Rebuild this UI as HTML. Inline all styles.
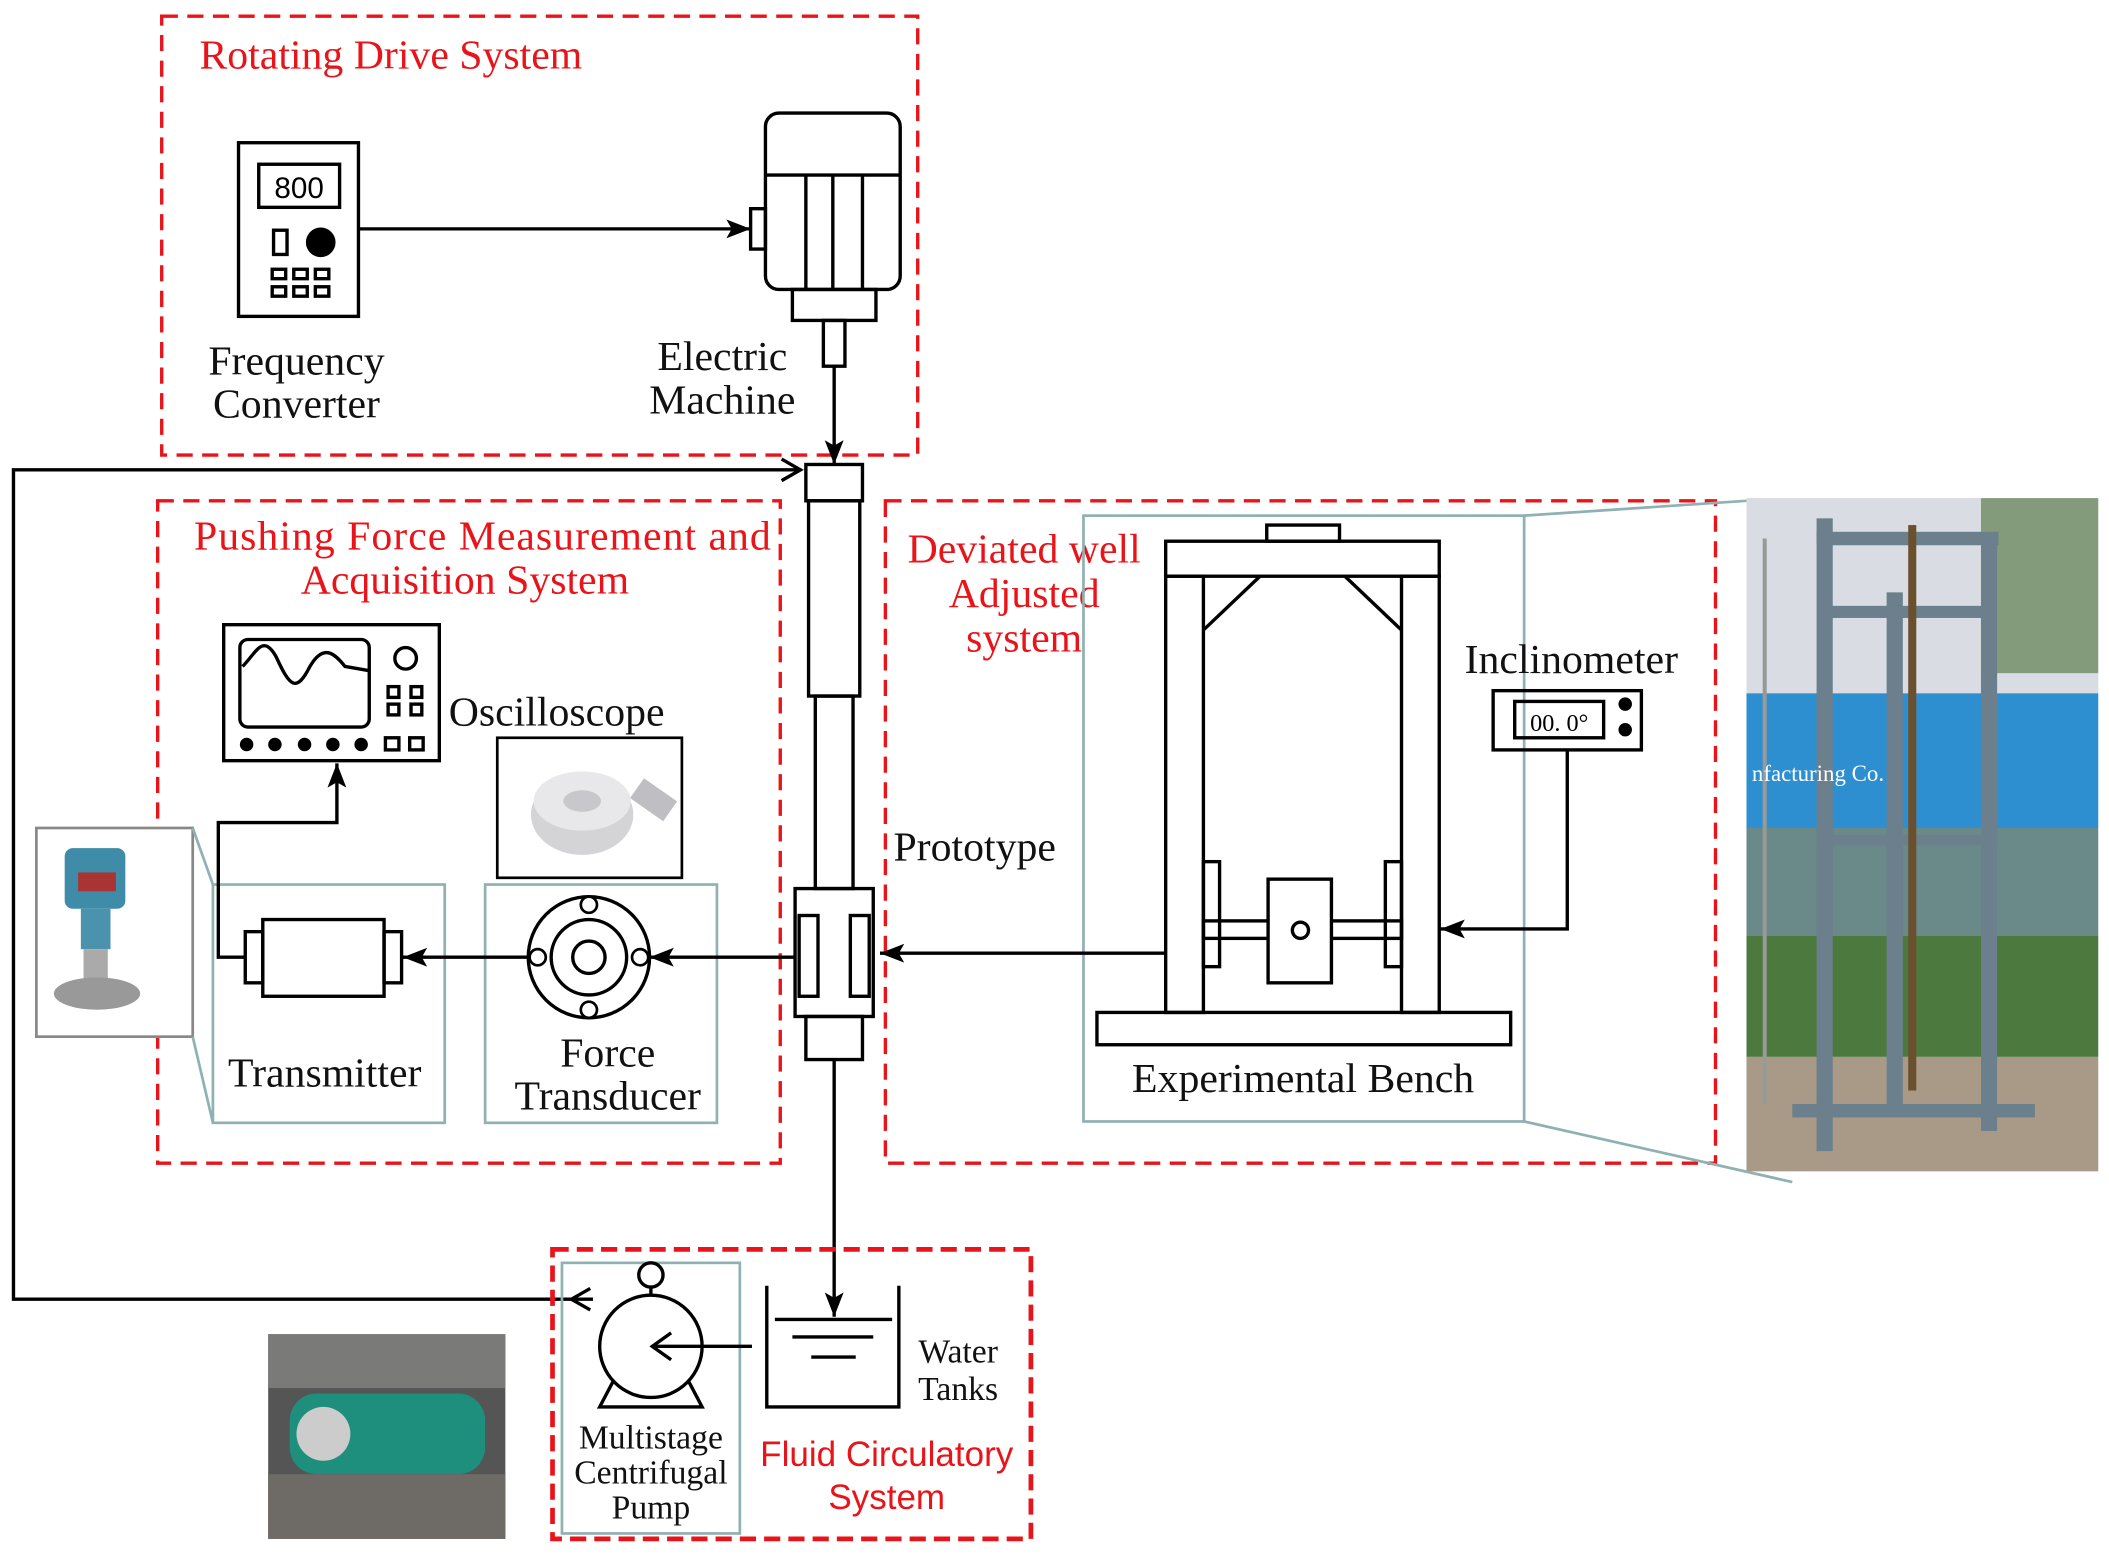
<!DOCTYPE html>
<html><head><meta charset="utf-8"><style>html,body{margin:0;padding:0;background:#fff}svg{display:block}</style></head>
<body>
<svg width="2109" height="1555" viewBox="0 0 1565 1155" preserveAspectRatio="none" xmlns="http://www.w3.org/2000/svg">
<defs>
<marker id="a" markerWidth="20" markerHeight="16" refX="18" refY="7" orient="auto" markerUnits="userSpaceOnUse"><path d="M0,0 L18,7 L0,14 L4,7 Z" fill="#000"/></marker>
</defs>
<style>
.d{fill:none;stroke:#e8141a;stroke-width:2.5;stroke-dasharray:12,7}
.k{fill:none;stroke:#000;stroke-width:2.5}
.t{fill:none;stroke:#8fb1b3;stroke-width:2}
.s{font-family:"Liberation Serif",serif;font-size:31px;fill:#111;text-anchor:middle}
.r{font-family:"Liberation Serif",serif;font-size:31px;fill:#e8141a}
</style>
<rect x="120" y="12" width="561" height="326" class="d"/>
<text x="148" y="51" class="r">Rotating Drive System</text>
<rect x="177" y="106" width="89" height="129" class="k"/>
<rect x="192" y="122" width="60" height="32" class="k" stroke-width="2"/>
<text x="222" y="147" font-family="Liberation Sans,sans-serif" font-size="22" text-anchor="middle">800</text>
<rect x="203" y="171" width="10" height="18" class="k" stroke-width="2"/>
<circle cx="238" cy="180" r="11" fill="#000"/>
<g class="k" stroke-width="1.8"><rect x="202" y="200" width="10" height="7"/><rect x="218" y="200" width="10" height="7"/><rect x="234" y="200" width="10" height="7"/><rect x="202" y="213" width="10" height="7"/><rect x="218" y="213" width="10" height="7"/><rect x="234" y="213" width="10" height="7"/></g>
<line x1="266" y1="170" x2="557" y2="170" class="k" marker-end="url(#a)"/>
<rect x="568" y="84" width="100" height="131" rx="10" class="k"/>
<line x1="568" y1="130" x2="668" y2="130" class="k"/>
<line x1="598" y1="130" x2="598" y2="215" class="k"/><line x1="618" y1="130" x2="618" y2="215" class="k"/><line x1="640" y1="130" x2="640" y2="215" class="k"/>
<rect x="557" y="155" width="11" height="30" class="k"/>
<rect x="588" y="215" width="62" height="23" class="k"/>
<rect x="611" y="238" width="16" height="34" class="k"/>
<line x1="619" y1="272" x2="619" y2="345" class="k" marker-end="url(#a)"/>
<text x="220" y="278" class="s">Frequency</text><text x="220" y="310" class="s">Converter</text>
<text x="536" y="275" class="s">Electric</text><text x="536" y="307" class="s">Machine</text>
<polyline points="440,965 10,965 10,349 594,349" class="k" stroke-width="3"/>
<path d="M580,341 L594,349 L580,357" fill="none" stroke="#000" stroke-width="2.5"/>
<path d="M438,957 L424,965 L438,973" fill="none" stroke="#000" stroke-width="2.5"/>
<rect x="598" y="345" width="42" height="27" class="k"/>
<rect x="600" y="372" width="38" height="145" class="k"/>
<rect x="605" y="517" width="28" height="143" class="k"/>
<rect x="590" y="660" width="58" height="95" class="k"/>
<rect x="593" y="680" width="14" height="60" class="k"/><rect x="631" y="680" width="14" height="60" class="k"/>
<rect x="598" y="755" width="42" height="32" class="k"/>
<line x1="619" y1="787" x2="619" y2="978" class="k" marker-end="url(#a)"/>
<text x="663" y="639" class="s" style="text-anchor:start">Prototype</text>
<rect x="117" y="372" width="462" height="492" class="d"/>
<text x="358" y="408" class="r" text-anchor="middle" textLength="428">Pushing Force Measurement and</text>
<text x="345" y="441" class="r" text-anchor="middle">Acquisition System</text>
<rect x="166" y="464" width="160" height="101" class="k"/>
<rect x="178" y="475" width="96" height="65" rx="6" class="k" stroke-width="2"/>
<path d="M180,495 C190,485 195,470 205,488 C215,510 220,515 230,495 C240,478 248,485 256,495 L273,498" class="k" stroke-width="2"/>
<circle cx="301" cy="489" r="8" class="k" stroke-width="2"/>
<g class="k" stroke-width="1.8"><rect x="288" y="510" width="8" height="8"/><rect x="305" y="510" width="8" height="8"/><rect x="288" y="523" width="8" height="8"/><rect x="305" y="523" width="8" height="8"/><rect x="286" y="548" width="10" height="9"/><rect x="304" y="548" width="10" height="9"/></g>
<g fill="#000"><circle cx="183" cy="553" r="5"/><circle cx="204" cy="553" r="5"/><circle cx="226" cy="553" r="5"/><circle cx="247" cy="553" r="5"/><circle cx="268" cy="553" r="5"/></g>
<text x="333" y="539" class="s" style="text-anchor:start">Oscilloscope</text>
<rect x="369" y="548" width="137" height="104" fill="#fff" stroke="#000" stroke-width="2"/>
<ellipse cx="432" cy="605" rx="38" ry="30" fill="#d4d4d6"/><ellipse cx="432" cy="595" rx="36" ry="22" fill="#e8e8ea"/><ellipse cx="432" cy="595" rx="14" ry="8" fill="#c8c8cc"/>
<rect x="470" y="585" width="30" height="18" fill="#bfbfc3" transform="rotate(35 485 594)"/>
<rect x="158" y="657" width="172" height="177" class="t"/>
<rect x="360" y="657" width="172" height="177" class="t"/>
<rect x="195" y="683" width="90" height="57" class="k"/>
<rect x="182" y="692" width="13" height="38" class="k" stroke-width="2"/><rect x="285" y="692" width="13" height="38" class="k" stroke-width="2"/>
<circle cx="437" cy="711" r="45" class="k"/><circle cx="437" cy="711" r="28" class="k" stroke-width="2"/><circle cx="437" cy="711" r="12" class="k"/>
<g fill="#fff" stroke="#000" stroke-width="2"><circle cx="437" cy="672" r="6"/><circle cx="437" cy="750" r="6"/><circle cx="399" cy="711" r="6"/><circle cx="475" cy="711" r="6"/></g>
<line x1="590" y1="711" x2="482" y2="711" class="k" marker-end="url(#a)"/>
<line x1="392" y1="711" x2="299" y2="711" class="k" marker-end="url(#a)"/>
<polyline points="182,711 162,711 162,611 250,611 250,567" class="k" marker-end="url(#a)"/>
<text x="241" y="807" class="s">Transmitter</text>
<text x="451" y="792" class="s">Force</text><text x="451" y="824" class="s">Transducer</text>
<rect x="27" y="615" width="116" height="155" fill="#fff" stroke="#888" stroke-width="2"/>
<rect x="48" y="630" width="45" height="45" rx="6" fill="#3f8ca8"/><rect x="58" y="648" width="28" height="14" fill="#a33"/>
<rect x="60" y="675" width="22" height="30" fill="#4b92ad"/><rect x="62" y="705" width="18" height="25" fill="#aaa"/><ellipse cx="72" cy="738" rx="32" ry="12" fill="#999"/>
<line x1="143" y1="615" x2="158" y2="657" class="t" stroke-width="1"/><line x1="143" y1="770" x2="158" y2="834" class="t" stroke-width="1"/>
<rect x="657" y="372" width="616" height="492" class="d"/>
<text x="760" y="418" class="r" text-anchor="middle">Deviated well</text>
<text x="760" y="451" class="r" text-anchor="middle">Adjusted</text>
<text x="760" y="484" class="r" text-anchor="middle">system</text>
<rect x="804" y="383" width="327" height="450" class="t"/>
<rect x="940" y="390" width="54" height="12" class="k"/>
<rect x="865" y="402" width="203" height="26" class="k"/>
<rect x="865" y="428" width="28" height="324" class="k"/><rect x="1040" y="428" width="28" height="324" class="k"/>
<line x1="893" y1="468" x2="935" y2="428" class="k"/><line x1="1040" y1="468" x2="998" y2="428" class="k"/>
<rect x="814" y="752" width="307" height="24" class="k"/>
<rect x="893" y="640" width="12" height="78" class="k" stroke-width="2"/><rect x="1028" y="640" width="12" height="78" class="k" stroke-width="2"/>
<rect x="893" y="684" width="147" height="13" class="k" stroke-width="2"/>
<rect x="941" y="653" width="47" height="77" fill="#fff" stroke="#000" stroke-width="2.5"/>
<circle cx="965" cy="691" r="6" class="k" stroke-width="2"/>
<line x1="865" y1="708" x2="653" y2="708" class="k" marker-end="url(#a)"/>
<text x="967" y="811" class="s">Experimental Bench</text>
<text x="1166" y="500" class="s">Inclinometer</text>
<rect x="1108" y="513" width="110" height="44" class="k"/>
<rect x="1124" y="521" width="66" height="27" class="k" stroke-width="2"/>
<text x="1157" y="543" font-family="Liberation Serif,serif" font-size="18" text-anchor="middle">00. 0°</text>
<circle cx="1206" cy="523" r="5" fill="#000"/><circle cx="1206" cy="542" r="5" fill="#000"/>
<polyline points="1163,557 1163,690 1069,690" class="k" marker-end="url(#a)"/>
<line x1="1131" y1="383" x2="1296" y2="372" class="t" stroke-width="1"/><line x1="1131" y1="833" x2="1330" y2="878" class="t" stroke-width="1"/>
<rect x="1296" y="370" width="261" height="500" fill="#c9cdd2"/>
<rect x="1296" y="370" width="261" height="150" fill="#d9dde3"/>
<rect x="1296" y="515" width="261" height="100" fill="#2e8fd0"/>
<rect x="1296" y="615" width="261" height="80" fill="#6a8a8a"/>
<rect x="1296" y="695" width="261" height="90" fill="#4c7a3e"/>
<rect x="1296" y="785" width="261" height="85" fill="#a89a86"/>
<rect x="1470" y="370" width="87" height="130" fill="#5f7f4f" opacity=".7"/>
<g fill="#6b7f8c"><rect x="1348" y="385" width="12" height="470"/><rect x="1470" y="400" width="12" height="440"/><rect x="1400" y="440" width="12" height="380"/><rect x="1348" y="395" width="135" height="10"/><rect x="1355" y="450" width="120" height="9"/><rect x="1350" y="620" width="130" height="8"/><rect x="1330" y="820" width="180" height="10"/></g>
<rect x="1416" y="390" width="6" height="420" fill="#6b5030"/>
<rect x="1308" y="400" width="3" height="420" fill="#999"/>
<text x="1300" y="580" font-family="Liberation Serif,serif" font-size="17" fill="#fff">nfacturing Co.</text>
<rect x="410" y="928" width="355" height="215" fill="none" stroke="#e8141a" stroke-width="3.5" stroke-dasharray="12,6"/>
<rect x="417" y="938" width="132" height="201" class="t"/>
<circle cx="483" cy="1000" r="38" class="k"/>
<circle cx="483" cy="947" r="9" class="k" stroke-width="2"/><line x1="483" y1="956" x2="483" y2="962" class="k"/>
<path d="M455,1026 L445,1045 L521,1045 L511,1026" class="k"/>
<line x1="558" y1="1000" x2="486" y2="1000" class="k"/>
<path d="M498,990 L484,1000 L498,1010" fill="none" stroke="#000" stroke-width="2.5"/>
<polyline points="569,955 569,1045 667,1045 667,955" class="k"/>
<line x1="575" y1="980" x2="662" y2="980" class="k" stroke-width="2"/><line x1="588" y1="993" x2="648" y2="993" class="k" stroke-width="2"/><line x1="602" y1="1008" x2="635" y2="1008" class="k" stroke-width="2"/>
<text x="711" y="1012" class="s" style="font-size:25px">Water</text><text x="711" y="1040" class="s" style="font-size:25px">Tanks</text>
<text x="658" y="1089" font-family="Liberation Sans,sans-serif" font-size="26" fill="#e8141a" text-anchor="middle">Fluid Circulatory</text>
<text x="658" y="1121" font-family="Liberation Sans,sans-serif" font-size="26" fill="#e8141a" text-anchor="middle">System</text>
<text x="483" y="1076" class="s" style="font-size:25px">Multistage</text><text x="483" y="1102" class="s" style="font-size:25px">Centrifugal</text><text x="483" y="1128" class="s" style="font-size:25px">Pump</text>
<rect x="199" y="991" width="176" height="152" fill="#555"/>
<rect x="199" y="991" width="176" height="40" fill="#7a7a78"/>
<rect x="215" y="1035" width="145" height="60" rx="20" fill="#1e8f7d"/>
<circle cx="240" cy="1065" r="20" fill="#ccc"/>
<rect x="199" y="1095" width="176" height="48" fill="#6e6a66"/>
</svg>
</body></html>
